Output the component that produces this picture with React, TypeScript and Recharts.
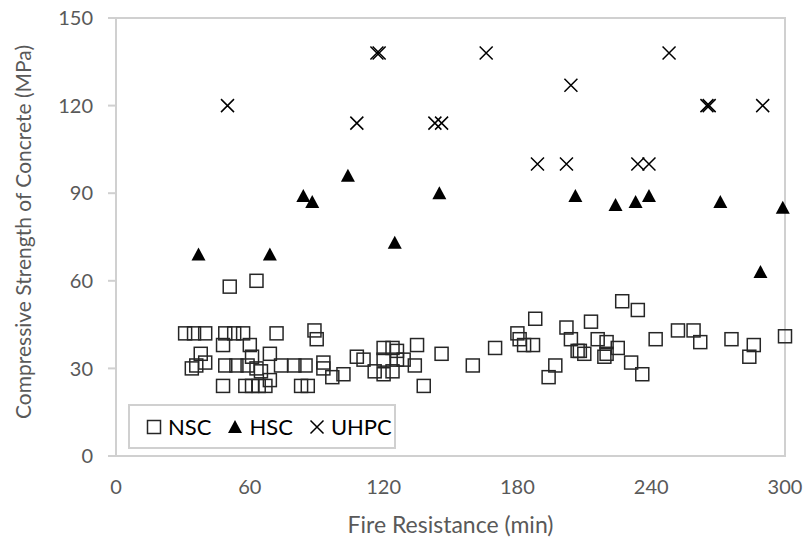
import React from "react"
import {
  ScatterChart, Scatter, XAxis, YAxis, ReferenceArea, Legend, Label,
} from "recharts"

// [fire resistance (min), compressive strength (MPa)]
const nscPoints: number[][] = [
  [31, 42], [35, 42], [40, 42], [49, 42], [53, 42], [57, 42], [72, 42], [89, 43], [90, 40],
  [51, 58], [63, 60],
  [48, 38], [60, 38], [38, 35], [40, 32], [36, 31], [34, 30],
  [49, 31], [54, 31], [59, 31], [61, 34], [63, 30], [65, 29], [69, 35], [69, 26],
  [74, 31], [80, 31], [85, 31], [93, 32], [93, 30], [97, 27], [102, 28],
  [48, 24], [58, 24], [61, 24], [64, 24], [67, 24], [83, 24], [86, 24],
  [108, 34], [111, 33], [116, 29], [120, 37], [124, 37], [126, 36], [120, 33], [120, 28],
  [124, 29], [126, 33], [129, 33], [134, 31], [135, 38], [138, 24], [146, 35], [160, 31], [170, 37],
  [180, 42], [181, 40], [183, 38], [187, 38], [188, 47], [197, 31], [194, 27], [202, 44],
  [204, 40], [207, 36], [208, 36], [210, 35],
  [213, 46], [216, 40], [220, 39], [219, 34], [220, 35], [225, 37], [227, 53], [234, 50],
  [231, 32], [236, 28], [242, 40], [252, 43], [259, 43], [262, 39], [276, 40], [286, 38],
  [284, 34], [300, 41],
]

const hscPoints: number[][] = [
  [37, 69], [69, 69], [84, 89], [88, 87], [104, 96], [125, 73], [145, 90], [206, 89],
  [224, 86], [233, 87], [239, 89], [271, 87], [289, 63], [299, 85],
]

const uhpcPoints: number[][] = [
  [50, 120], [117, 138], [118, 138], [108, 114], [143, 114], [146, 114], [166, 138],
  [189, 100], [202, 100], [204, 127], [234, 100], [239, 100], [248, 138], [265, 120],
  [266, 120], [290, 120],
]

const xTicks = [0, 60, 120, 180, 240, 300]
const yTicks = [0, 30, 60, 90, 120, 150]

const toObj = (pts: number[][]) => pts.map(([x, y]) => ({ x, y }))

const FONT = "Lato, 'Open Sans', sans-serif"
const FRAME = "#d0d0d0"
const TICK = "#595959"

function SquareMark({ cx, cy }: any) {
  if (cx == null || cy == null) return null
  return <rect x={cx - 6.5} y={cy - 6.5} width={13} height={13} fill="none" stroke="#262626" strokeWidth={1.5} />
}

function TriangleMark({ cx, cy }: any) {
  if (cx == null || cy == null) return null
  return <path d={`M${cx},${cy - 7} L${cx + 7},${cy + 6} L${cx - 7},${cy + 6} Z`} fill="#000" />
}

function CrossMark({ cx, cy }: any) {
  if (cx == null || cy == null) return null
  const r = 6.5
  return (
    <path
      d={`M${cx - r},${cy - r} L${cx + r},${cy + r} M${cx + r},${cy - r} L${cx - r},${cy + r}`}
      stroke="#000" strokeWidth={1.5} fill="none"
    />
  )
}

function LegendBox() {
  const item = { display: "flex", alignItems: "center", marginRight: 16 }
  return (
    <div style={{
      width: 268, height: 45, border: `2px solid ${FRAME}`, background: "#fff",
      display: "flex", alignItems: "center", paddingLeft: 16, boxSizing: "border-box",
      fontFamily: FONT, fontSize: 22, color: "#000",
    }}>
      <div style={item}>
        <svg width={16} height={16}><rect x={1.5} y={1.5} width={13} height={13} fill="none" stroke="#262626" strokeWidth={1.5} /></svg>
        <span style={{ marginLeft: 6 }}>NSC</span>
      </div>
      <div style={item}>
        <svg width={16} height={16}><path d="M8,1 L15,14 L1,14 Z" fill="#000" /></svg>
        <span style={{ marginLeft: 6 }}>HSC</span>
      </div>
      <div style={item}>
        <svg width={16} height={16}><path d="M1.5,1.5 L14.5,14.5 M14.5,1.5 L1.5,14.5" stroke="#000" strokeWidth={1.5} /></svg>
        <span style={{ marginLeft: 6 }}>UHPC</span>
      </div>
    </div>
  )
}

// y title sits a bit above the plot centre, as in the source figure
function YTitle() {
  return (
    <text
      x={22} y={232} transform="rotate(-90 22 232)" textAnchor="middle" dominantBaseline="central"
      style={{ fill: TICK, fontSize: 21, fontFamily: FONT }}
    >
      Compressive Strength of Concrete (MPa)
    </text>
  )
}

export default function App() {
  return (
    <div style={{ position: "absolute", left: 0, top: 0, background: "#fff" }}>
      <ScatterChart width={805} height={541} margin={{ top: 18, right: 20, left: 0, bottom: 0 }}>
        <ReferenceArea x1={0} x2={300} y1={0} y2={150} fill="none" stroke={FRAME} strokeWidth={2} ifOverflow="visible" />
        <XAxis
          type="number" dataKey="x" domain={[0, 300]} ticks={xTicks} height={85}
          axisLine={{ stroke: FRAME, strokeWidth: 2 }} tickLine={false} tickSize={0} tickMargin={24}
          tick={{ fill: TICK, fontSize: 20, fontFamily: FONT }}
        >
          <Label value="Fire Resistance (min)" position="insideBottom" offset={8}
            style={{ fill: TICK, fontSize: 23, fontFamily: FONT }} />
        </XAxis>
        <YAxis
          type="number" dataKey="y" domain={[0, 150]} ticks={yTicks} width={116}
          axisLine={{ stroke: FRAME, strokeWidth: 2 }} tickLine={{ stroke: FRAME, strokeWidth: 2 }}
          tickSize={8} tickMargin={15}
          tick={{ fill: TICK, fontSize: 20, fontFamily: FONT }}
        >
          <Label content={() => <YTitle />} />
        </YAxis>
        <Legend
          layout="vertical" align="center" verticalAlign="middle"
          content={() => <LegendBox />}
          wrapperStyle={{ left: 128, top: 404, width: 270, height: 47 }}
        />
        <Scatter name="NSC" data={toObj(nscPoints)} shape={SquareMark} isAnimationActive={false} />
        <Scatter name="HSC" data={toObj(hscPoints)} shape={TriangleMark} isAnimationActive={false} />
        <Scatter name="UHPC" data={toObj(uhpcPoints)} shape={CrossMark} isAnimationActive={false} />
      </ScatterChart>
    </div>
  )
}
